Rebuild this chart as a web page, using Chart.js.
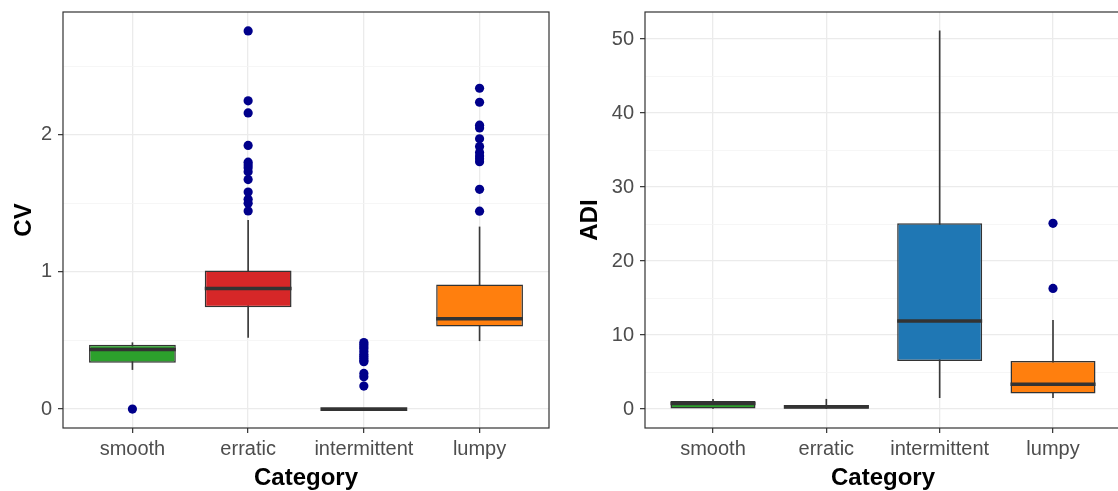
<!DOCTYPE html>
<html>
<head>
<meta charset="utf-8">
<title>CV and ADI by category</title>
<script src="https://cdn.jsdelivr.net/npm/chart.js@4.4.1/dist/chart.umd.min.js"></script>
<style>
  html, body { margin: 0; padding: 0; background: #fff; overflow: hidden; }
  #wrap { position: relative; width: 1118px; height: 491px; overflow: hidden; }
  #cvChart { position: absolute; left: 0; top: 0; }
  #adiChart { position: absolute; left: 560px; top: 0; }
</style>
</head>
<body>
<div id="wrap">
  <canvas id="cvChart" width="560" height="491"></canvas>
  <canvas id="adiChart" width="575" height="491"></canvas>
</div>
<script>
var categories = ['smooth', 'erratic', 'intermittent', 'lumpy'];
var boxColors = ['#2ca02c', '#d62728', '#1f77b4', '#ff7f0e'];

// CV panel (box stats)
var cvLow = [0.288, 0.522, 0, 0.498];
var cvQ1 = [0.337, 0.742, 0, 0.603];
var cvMedian = [0.434, 0.879, 0, 0.659];
var cvQ3 = [0.469, 1.011, 0, 0.908];
var cvHigh = [0.484, 1.377, 0, 1.328];
var cvOutliers = [
  [0],
  [2.757, 2.247, 2.159, 1.922, 1.800, 1.780, 1.760, 1.731, 1.673, 1.582, 1.530, 1.500, 1.445],
  [0.485, 0.470, 0.455, 0.440, 0.420, 0.400, 0.385, 0.370, 0.355, 0.345, 0.260, 0.235, 0.168],
  [2.339, 2.237, 2.070, 2.050, 1.971, 1.914, 1.870, 1.845, 1.825, 1.804, 1.602, 1.443]
];
var cvMajorTicks = [0, 1, 2];
var cvMinorTicks = [0.5, 1.5, 2.5];

// ADI panel
var adiLow = [0, 0, 1.55, 1.53];
var adiQ1 = [0, 0, 6.5, 2.1];
var adiMedian = [0.75, 0.3, 11.9, 3.35];
var adiQ3 = [1.08, 0.54, 25.1, 6.5];
var adiHigh = [1.33, 1.33, 51.1, 12.0];
var adiOutliers = [[], [], [], [25.1, 16.3]];
var adiMajorTicks = [0, 10, 20, 30, 40, 50];
var adiMinorTicks = [5, 15, 25, 35, 45];

var boxPlotPlugin = {
  id: 'boxPlot',
  afterDatasetsDraw: function (chart, args, opts) {
    var ctx = chart.ctx, yScale = chart.scales.y, meta = chart.getDatasetMeta(1);
    ctx.save();
    ctx.strokeStyle = '#333333';
    ctx.lineWidth = 3.6;
    opts.medians.forEach(function (m, i) {
      var bar = meta.data[i], py = yScale.getPixelForValue(m);
      ctx.beginPath();
      ctx.moveTo(bar.x - bar.width / 2, py);
      ctx.lineTo(bar.x + bar.width / 2, py);
      ctx.stroke();
    });
    ctx.restore();
  },
  afterDraw: function (chart) {
    var a = chart.chartArea, ctx = chart.ctx;
    ctx.save();
    ctx.strokeStyle = '#333333';
    ctx.lineWidth = 1.2;
    ctx.strokeRect(a.left, a.top, a.right - a.left, a.bottom - a.top);
    ctx.restore();
  }
};

function makeBoxChart(canvasId, cfg) {
  var points = [];
  cfg.outliers.forEach(function (list, i) {
    list.forEach(function (v) { points.push({ x: i, y: v }); });
  });
  var all = cfg.low.concat(cfg.high, points.map(function (p) { return p.y; }));
  var yMin = Math.min.apply(null, all), yMax = Math.max.apply(null, all);
  var pad = (yMax - yMin) * 0.05;
  var yTicks = cfg.major.concat(cfg.minor).sort(function (a, b) { return a - b; });
  var isMajor = function (v) { return cfg.major.indexOf(v) !== -1; };
  var font = "'Liberation Sans', Arial, sans-serif";

  return new Chart(document.getElementById(canvasId), {
    type: 'bar',
    data: {
      datasets: [{
        label: 'whisker',
        order: 2,
        grouped: false,
        barThickness: 1,
        backgroundColor: '#3a3a3a',
        data: categories.map(function (c, i) { return { x: i, y: [cfg.low[i], cfg.high[i]] }; })
      }, {
        label: 'box',
        order: 1,
        grouped: false,
        categoryPercentage: 0.75,
        barPercentage: 1,
        backgroundColor: boxColors,
        borderColor: '#333333',
        borderWidth: 1.5,
        borderSkipped: false,
        data: categories.map(function (c, i) { return { x: i, y: [cfg.q1[i], cfg.q3[i]] }; })
      }, {
        type: 'scatter',
        label: 'outlier',
        order: 0,
        pointRadius: 4.6,
        borderWidth: 0,
        backgroundColor: '#00008b',
        data: points
      }]
    },
    options: {
      responsive: false,
      animation: false,
      layout: { padding: { left: 0, top: 12, right: cfg.padRight, bottom: 0 } },
      plugins: {
        legend: { display: false },
        tooltip: { enabled: false },
        boxPlot: { medians: cfg.median }
      },
      scales: {
        x: {
          type: 'linear',
          offset: false,
          min: -0.6,
          max: categories.length - 0.4,
          afterBuildTicks: function (s) { s.ticks = categories.map(function (c, i) { return { value: i }; }); },
          afterFit: function (s) { s.height = 63; s.paddingLeft = 0; s.paddingRight = 0; },
          border: { display: false },
          grid: { offset: false, color: '#ebebeb', lineWidth: 1.3, tickLength: 5, tickColor: '#333333', tickWidth: 1.2 },
          ticks: {
            padding: 4,
            color: '#4d4d4d',
            font: { family: font, size: 20 },
            callback: function (v) { return categories[v]; }
          },
          title: {
            display: true,
            text: 'Category',
            color: '#000',
            padding: { top: 0, bottom: -2 },
            font: { family: font, size: 24, weight: 'bold' }
          }
        },
        y: {
          min: yMin - pad,
          max: yMax + pad,
          afterBuildTicks: function (s) { s.ticks = yTicks.map(function (v) { return { value: v }; }); },
          afterFit: function (s) { s.width = cfg.axisWidth; s.paddingTop = 0; s.paddingBottom = 0; },
          border: { display: false },
          grid: {
            color: function (c) { return isMajor(c.tick.value) ? '#ebebeb' : '#f4f4f4'; },
            lineWidth: function (c) { return isMajor(c.tick.value) ? 1.3 : 0.8; },
            tickLength: 5,
            tickWidth: 1.2,
            tickColor: function (c) { return isMajor(c.tick.value) ? '#333333' : 'rgba(0,0,0,0)'; }
          },
          ticks: {
            padding: 6,
            color: '#4d4d4d',
            font: { family: font, size: 20 },
            callback: function (v) { return isMajor(v) ? String(v) : ''; }
          },
          title: {
            display: true,
            text: cfg.title,
            color: '#000',
            padding: { top: cfg.titlePad, bottom: 0 },
            font: { family: font, size: 24, weight: 'bold' }
          }
        }
      }
    },
    plugins: [boxPlotPlugin]
  });
}

makeBoxChart('cvChart', {
  title: 'CV', low: cvLow, q1: cvQ1, median: cvMedian, q3: cvQ3, high: cvHigh,
  outliers: cvOutliers, major: cvMajorTicks, minor: cvMinorTicks,
  axisWidth: 63, padRight: 11, titlePad: 10
});

makeBoxChart('adiChart', {
  title: 'ADI', low: adiLow, q1: adiQ1, median: adiMedian, q3: adiQ3, high: adiHigh,
  outliers: adiOutliers, major: adiMajorTicks, minor: adiMinorTicks,
  axisWidth: 85, padRight: 14, titlePad: 16
});
</script>
</body>
</html>
